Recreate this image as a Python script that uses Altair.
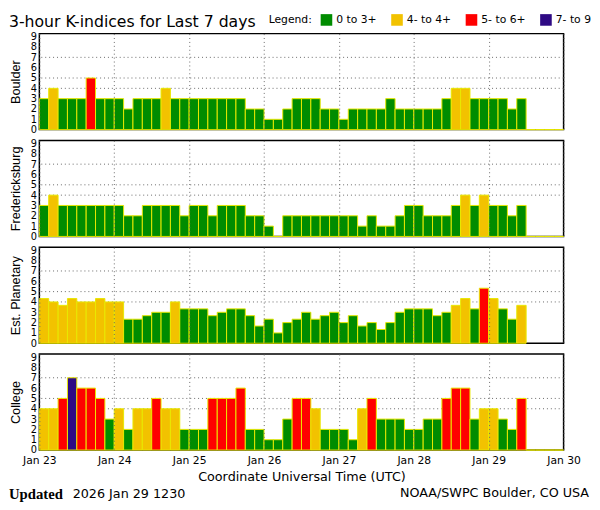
import altair as alt
import pandas as pd

title_text = "3-hour K-indices for Last 7 days"
stations = ["Boulder", "Fredericksburg", "Est. Planetary", "College"]

boulder = [3, 4, 3, 3, 3, 5, 3, 3,
           3, 2, 3, 3, 3, 4, 3, 3,
           3, 3, 3, 3, 3, 3, 2, 2,
           1, 1, 2, 3, 3, 3, 2, 2,
           1, 2, 2, 2, 2, 3, 2, 2,
           2, 2, 2, 3, 4, 4, 3, 3,
           3, 3, 2, 3, 0, 0, 0, 0]
fredericksburg = [3, 4, 3, 3, 3, 3, 3, 3,
                  3, 2, 2, 3, 3, 3, 3, 2,
                  3, 3, 2, 3, 3, 3, 2, 2,
                  1, 0, 2, 2, 2, 2, 2, 2,
                  2, 2, 1, 2, 1, 1, 2, 3,
                  3, 2, 2, 2, 3, 4, 3, 4,
                  3, 3, 2, 3, 0, 0, 0, 0]
planetary = [4.33, 4.0, 3.67, 4.33, 4.0, 4.0, 4.33, 4.0,
             4.0, 2.33, 2.33, 2.67, 3.0, 3.0, 4.0, 3.33,
             3.33, 3.33, 2.67, 3.0, 3.33, 3.33, 2.67, 1.67,
             2.33, 1.0, 2.0, 2.33, 3.0, 2.33, 2.67, 3.0,
             2.0, 2.67, 1.67, 2.0, 1.33, 2.0, 3.0, 3.33,
             3.33, 3.33, 2.67, 3.0, 3.67, 4.33, 3.33, 5.33,
             4.33, 3.33, 2.33, 3.67, None, None, None, None]
college = [4, 4, 5, 7, 6, 6, 5, 3,
           4, 2, 4, 4, 5, 4, 4, 2,
           2, 2, 5, 5, 5, 6, 2, 2,
           1, 1, 3, 5, 5, 4, 2, 2,
           2, 1, 4, 5, 3, 3, 3, 2,
           2, 3, 3, 5, 6, 6, 3, 4,
           4, 3, 2, 5, 0, 0, 0, 0]
series = [boulder, fredericksburg, planetary, college]

first_day = "2026-01-23"
day_numbers = [23, 24, 25, 26, 27, 28, 29, 30]
slot_hours = 3
legend_title = "Legend:"
legend_labels = ["0 to 3+", "4- to 4+", "5- to 6+", "7- to 9"]
legend_colors = ["#008c00", "#f2c200", "#ff0000", "#2e0a84"]
grid_levels = [4, 5, 7]
k_ticks = [0, 1, 2, 3, 4, 5, 6, 7, 8, 9]
x_title = "Coordinate Universal Time (UTC)"
updated_word = "Updated"
updated_stamp = "2026 Jan 29 1230"
credit = "NOAA/SWPC Boulder, CO USA"

FONT = "DejaVu Sans"
SANS = "Liberation Sans"
W, H = 535, 98
LEFT = -31


def category(v):
    if v < 3.5:
        return legend_labels[0]
    if v < 4.5:
        return legend_labels[1]
    if v < 6.5:
        return legend_labels[2]
    return legend_labels[3]


start = pd.Timestamp(first_day, tz="UTC")


def frame(vals):
    rows = []
    for i, v in enumerate(vals):
        if v is None:
            continue
        t0 = start + pd.Timedelta(hours=slot_hours * i)
        t1 = t0 + pd.Timedelta(hours=slot_hours)
        rows.append({"t0": t0.strftime("%Y-%m-%dT%H:%M:%SZ"),
                     "t1": t1.strftime("%Y-%m-%dT%H:%M:%SZ"),
                     "k": v, "cat": category(v)})
    return pd.DataFrame(rows)


tick_values = [alt.DateTime(year=2026, month=1, date=d, utc=True) for d in day_numbers]
x_scale = alt.Scale(type="utc", domain=[tick_values[0], tick_values[-1]])
y_scale = alt.Scale(domain=[0, 9.3], nice=False, zero=True)
color_scale = alt.Scale(domain=legend_labels, range=legend_colors)
legend = alt.Legend(orient="none", legendX=234, legendY=-20, direction="horizontal",
                    title=legend_title, titleOrient="left", symbolType="square",
                    symbolSize=140, symbolStrokeWidth=0, labelFontSize=11,
                    titleFontSize=11, titleFontWeight="normal", titleFont=FONT,
                    labelFont=FONT, columnPadding=14, labelOffset=4, titlePadding=8,
                    labelColor="black", titleColor="black")


def y_axis(name):
    return alt.Axis(values=k_ticks, title=name, ticks=False, domain=False,
                    grid=False, labelFontSize=10, labelPadding=3,
                    labelOverlap=False, labelColor="black", labelFont=FONT,
                    titleFontSize=13, titleFontWeight="normal",
                    titleFont=SANS, titleColor="black", titlePadding=8)


def panel(name, vals, idx, bottom):
    ax = dict(values=tick_values, grid=True, gridDash=[1, 3], gridColor="#666666",
              gridWidth=1, ticks=False, domain=False, labels=bottom, zindex=1)
    if bottom:
        ax.update(labelExpr="utcFormat(datum.value, '%b %d')", labelFontSize=11,
                  labelPadding=5, labelFlush=False, labelColor="black", labelFont=FONT,
                  title=x_title, titleFontSize=13, titlePadding=5,
                  titleFontWeight="normal", titleFont=FONT, titleColor="black")
    else:
        ax.update(title=None)
    bars = alt.Chart(frame(vals)).mark_bar(stroke="#e8e800", strokeWidth=1).encode(
        x=alt.X("t0:T", scale=x_scale, axis=alt.Axis(**ax)),
        x2="t1:T",
        y=alt.Y("k:Q", scale=y_scale, axis=y_axis(name)),
        y2=alt.datum(0),
        color=alt.Color("cat:N", scale=color_scale, legend=legend),
    )
    rules = alt.Chart(pd.DataFrame({"lvl": grid_levels})).mark_rule(
        strokeDash=[1, 3], color="#666666", strokeWidth=1).encode(
        y=alt.Y("lvl:Q", scale=y_scale, axis=y_axis(name)))
    layers = [rules, bars]
    if idx == 0:
        t = alt.Chart(pd.DataFrame({"s": [title_text]})).mark_text(
            align="left", baseline="middle", font=FONT, fontSize=16,
            color="black").encode(x=alt.value(LEFT), y=alt.value(-12), text="s:N")
        layers.append(t)
    if bottom:
        w1 = alt.Chart(pd.DataFrame({"s": [updated_word]})).mark_text(
            align="left", baseline="middle", font="Liberation Serif", fontWeight="bold",
            fontSize=15, color="black").encode(
            x=alt.value(LEFT), y=alt.value(143), text="s:N")
        w2 = alt.Chart(pd.DataFrame({"s": [updated_stamp]})).mark_text(
            align="left", baseline="middle", font=FONT, fontSize=13,
            color="black").encode(
            x=alt.value(LEFT + 65), y=alt.value(143), text="s:N")
        w3 = alt.Chart(pd.DataFrame({"s": [credit]})).mark_text(
            align="right", baseline="middle", font=FONT, fontSize=13,
            color="black").encode(
            x=alt.value(561), y=alt.value(142), text="s:N")
        layers += [w1, w2, w3]
    return alt.layer(*layers).properties(width=W, height=H)


panels = [panel(n, v, i, i == len(stations) - 1)
          for i, (n, v) in enumerate(zip(stations, series))]

chart = alt.vconcat(*panels, spacing=11, bounds="flush").properties(
    padding=0,
).configure_view(stroke="black", strokeWidth=1.5)

chart.save("out.html", embed_options={"renderer": "svg", "actions": False})
